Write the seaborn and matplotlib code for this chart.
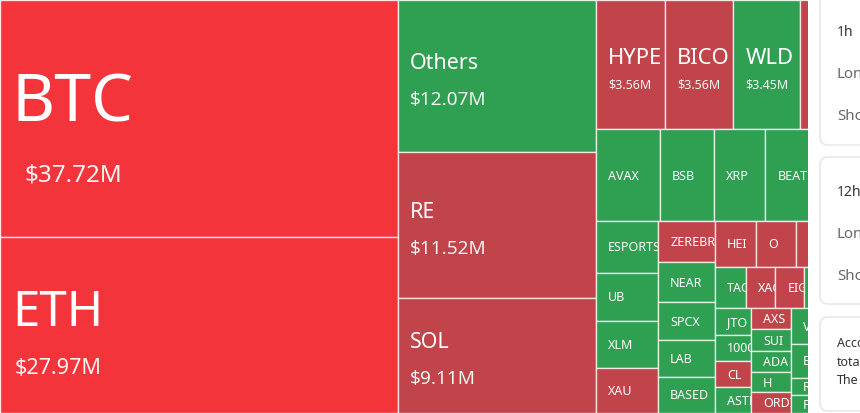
import numpy as np
import matplotlib.pyplot as plt
import matplotlib.patches as mpatches
import seaborn as sns

sns.set_theme(style='white')
plt.rcParams['font.family'] = ['Noto Sans', 'DejaVu Sans']

# liquidation amounts in $M, sorted largest first (tiles past the right edge are hidden by the side panel)
coins = ['BTC', 'ETH', 'Others', 'RE', 'SOL',
         'HYPE', 'BICO', 'WLD', 'DOGE',
         'AVAX', 'BSB', 'XRP', 'BEAT', 'LINK',
         'ESPORTS', 'UB', 'XLM', 'XAU',
         'ZEREBRO', 'NEAR', 'SPCX', 'LAB', 'BASED',
         'HEI', 'O', 'TRUMP', 'TRX',
         'TAC', 'XAC', 'EIGEN', 'BNB', 'LTC',
         'JTO', '1000PEPE', 'CL', 'ASTER',
         'AXS', 'SUI', 'ADA', 'H', 'ORDI',
         'VIRTUAL', 'APT', 'ARB', 'ENA', 'OP', 'TIA',
         'RENDER', 'FIL', 'INJ', 'ETC', 'BCH', 'DOT']
amounts = [37.72, 27.97, 12.07, 11.52, 9.11,
           3.56, 3.56, 3.45, 3.05,
           2.34, 1.98, 1.87, 1.87, 1.55,
           1.29, 1.21, 1.16, 1.12,
           0.95, 0.90, 0.88, 0.83, 0.83,
           0.76, 0.75, 0.62, 0.54,
           0.51, 0.48, 0.46, 0.46, 0.45,
           0.38, 0.38, 0.38, 0.37,
           0.34, 0.34, 0.34, 0.33, 0.33,
           0.33, 0.32, 0.32, 0.31, 0.30, 0.30,
           0.17, 0.17, 0.16, 0.16, 0.15, 0.15]
# 2 = strong red, 1 = red, 0 = green
tones = [2, 2, 0, 1, 1,
         1, 1, 0, 1,
         0, 0, 0, 0, 0,
         0, 0, 0, 1,
         1, 0, 0, 0, 0,
         1, 1, 1, 1,
         0, 1, 1, 0, 0,
         0, 0, 1, 0,
         1, 0, 0, 0, 1,
         0, 0, 0, 0, 0, 0,
         0, 0, 0, 0, 0, 0]

tone_colors = {2: '#F4343B', 1: '#C0444A', 0: '#2F9F52'}

W, H = 860, 413
TREE_W = 859      # full treemap width, the part past CLIP_X sits under the panel
CLIP_X = 808


def squarify(values, x, y, w, h, ratio=(1 + 5 ** 0.5) / 2):
    scale = w * h / sum(values)
    areas = [v * scale for v in values]
    rect = [x, y, w, h]
    tiles = []

    def worst(row, side):
        s = sum(row)
        f = side * side * ratio
        return max(f * max(row) / s ** 2, s ** 2 / (f * min(row)))

    def place(row, flush):
        rx, ry, rw, rh = rect
        s = sum(row)
        if rw <= rh:
            thick = rh if flush else min(s / rw, rh)
            pos = rx
            for k, a in enumerate(row):
                step = rx + rw - pos if k == len(row) - 1 else a / thick
                tiles.append((pos, ry, step, thick))
                pos += step
            rect[1] += thick
            rect[3] -= thick
        else:
            thick = rw if flush else min(s / rh, rw)
            pos = ry
            for k, a in enumerate(row):
                step = ry + rh - pos if k == len(row) - 1 else a / thick
                tiles.append((rx, pos, thick, step))
                pos += step
            rect[0] += thick
            rect[2] -= thick

    row, best, i = [], np.inf, 0
    while i < len(areas):
        row.append(areas[i])
        score = worst(row, min(rect[2], rect[3]))
        if score <= best:
            best = score
            i += 1
        else:
            row.pop()
            place(row, False)
            row, best = [], np.inf
    if row:
        place(row, True)
    return tiles


def pt(px):
    return px * 72 / 100


def label_style(v):
    # name px, value px, gap between the two lines, shift of the block
    if v >= 20:
        name_px = 1.76 * v
        val_px = 14 + 0.27 * v
        return name_px, val_px, 0.95 * name_px + 0.5 * val_px, 0.25 * name_px
    if v >= 5:
        return 21.5, 19, 37, 3.5
    if v >= 3:
        return 22, 12.5, 28, 5
    return 12.5, None, 0, 0


fig = plt.figure(figsize=(W / 100, H / 100), dpi=100)
ax = fig.add_axes([0, 0, 1, 1])
ax.set_xlim(0, W)
ax.set_ylim(H, 0)
ax.axis('off')
renderer = fig.canvas.get_renderer()

tiles = squarify(amounts, 0, 0, TREE_W, H)
for (x, y, w, h), name, v, tone in zip(tiles, coins, amounts, tones):
    patch = mpatches.Rectangle((x, y), w, h, facecolor=tone_colors[tone],
                               edgecolor=(1, 1, 1, 0.75), linewidth=1, zorder=1)
    ax.add_patch(patch)
    tx = x + 12
    if tx >= CLIP_X - 1:
        continue
    name_px, val_px, gap, off = label_style(v)
    cy = y + h / 2
    if val_px is None:
        t = ax.text(tx, cy + 0.36 * name_px, name, color='white', fontsize=pt(name_px),
                    va='baseline', ha='left', zorder=2, clip_on=True)
        t.set_clip_path(patch)
        continue
    ny = cy + off - gap / 2 + 0.36 * name_px
    vy = cy + off + gap / 2 + 0.36 * val_px
    t1 = ax.text(tx, ny, name, color='white', fontsize=pt(name_px),
                 va='baseline', ha='left', zorder=2, clip_on=True)
    t2 = ax.text(tx, vy, f'${v:.2f}M', color='#F4F4F4', fontsize=pt(val_px),
                 va='baseline', ha='left', zorder=2, clip_on=True)
    # a value line narrower than the name sits centred under it
    nw = t1.get_window_extent(renderer).width
    vw = t2.get_window_extent(renderer).width
    box = min(max(nw, vw), w - 24)
    if vw < box:
        t2.set_x(tx + (box - vw) / 2)
    t1.set_clip_path(patch)
    t2.set_clip_path(patch)

# side panel covering the rest of the treemap
ax.add_patch(mpatches.Rectangle((CLIP_X, -5), W - CLIP_X + 10, H + 10,
                                facecolor='white', edgecolor='none', zorder=5))
cards = [(-6, 145), (157, 304), (317, 411)]
for top, bottom in cards:
    ax.add_patch(mpatches.FancyBboxPatch((820, top), 80, bottom - top,
                                         boxstyle='round,pad=0,rounding_size=8',
                                         facecolor='white', edgecolor='#E4E4E4',
                                         linewidth=1, zorder=6))

panel_text = [
    ('1h', 33, 14, '#333333', 'semibold'),
    ('Long', 75, 15, '#666666', 'normal'),
    ('Short', 117, 15, '#666666', 'normal'),
    ('12h', 193, 14, '#333333', 'semibold'),
    ('Long', 234, 15, '#666666', 'normal'),
    ('Short', 276, 15, '#666666', 'normal'),
    ('According', 343, 12.5, '#333333', 'normal'),
    ('total', 362, 12.5, '#333333', 'normal'),
    ('The', 381, 12.5, '#333333', 'normal'),
]
for txt, yy, px, col, wt in panel_text:
    ax.text(837, yy, txt, fontsize=pt(px), color=col, fontweight=wt,
            va='center', ha='left', zorder=7, clip_on=True)

fig.savefig('out.png', dpi=100)
